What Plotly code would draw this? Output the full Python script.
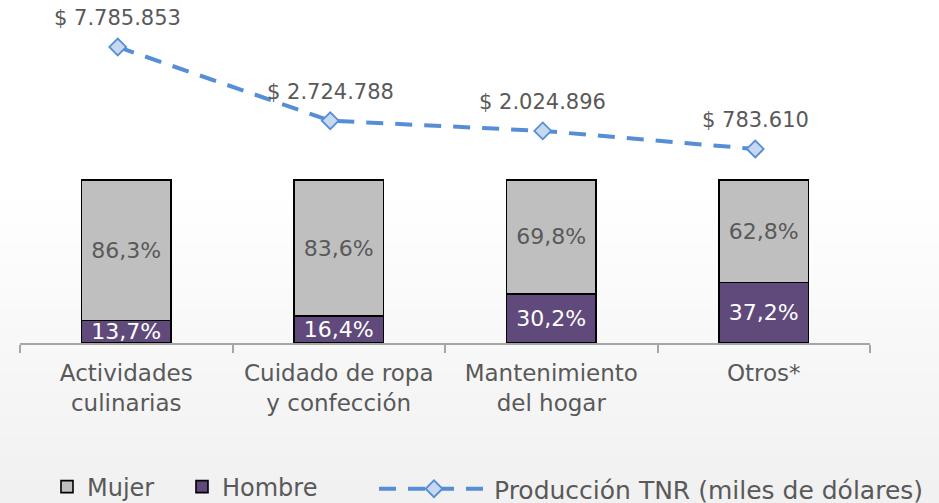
import plotly.graph_objects as go

categories = ["Actividades<br>culinarias", "Cuidado de ropa<br>y confección",
              "Mantenimiento<br>del hogar", "Otros*"]
mujer = [86.3, 83.6, 69.8, 62.8]
hombre = [13.7, 16.4, 30.2, 37.2]
produccion = [7785853, 2724788, 2024896, 783610]

FONT = "DejaVu Sans"
GRAY_TXT = "#595959"
W, H = 939, 503
L, R, T, B = 20, 69, 0, 160
PH = H - T - B
PW = W - L - R


def pct(v):
    return f"{v:.1f}%".replace(".", ",")


def money(v):
    return "$ " + f"{v:,}".replace(",", ".")


fig = go.Figure()
fig.add_trace(go.Bar(
    x=categories, y=hombre, name="Hombre", legendrank=2,
    marker=dict(color="#5F4A7B", line=dict(color="black", width=1.6)),
    text=[pct(v) for v in hombre], textposition="inside", insidetextanchor="middle",
    textangle=0, textfont=dict(family=FONT, size=22, color="white"),
))
fig.add_trace(go.Bar(
    x=categories, y=mujer, name="Mujer", legendrank=1,
    marker=dict(color="#BFBFBF", line=dict(color="black", width=1.6)),
    text=[pct(v) for v in mujer], textposition="inside", insidetextanchor="middle",
    textangle=0, textfont=dict(family=FONT, size=22, color=GRAY_TXT),
))
fig.add_trace(go.Scatter(
    x=categories, y=produccion, name="Producción TNR (miles de dólares)",
    xaxis="x2", yaxis="y2", mode="lines+markers", legend="legend2",
    line=dict(color="#558ED5", width=4, dash="17px,12px"),
    marker=dict(symbol="diamond", size=13, color="#C6D9F1",
                line=dict(color="#558ED5", width=1.8)),
))

annotations = []
for c, v in zip(categories, produccion):
    annotations.append(dict(
        x=c, y=v, xref="x2", yref="y2", text=money(v), showarrow=False,
        yshift=29, font=dict(family=FONT, size=21, color=GRAY_TXT),
    ))

shapes = []
n_bands = 14
for i in range(n_bands):
    ptop = 200 + i * (300 / n_bands)
    shapes.append(dict(
        type="rect", xref="paper", yref="paper", layer="below",
        x0=(0 - L) / PW, x1=(W - L) / PW,
        y0=(PH - H) / PH, y1=(PH - ptop) / PH,
        fillcolor="rgba(0,0,0,0.005)", line=dict(width=0),
    ))

y2min, y2max = -12535000, 11011000
fig.update_layout(
    width=W, height=H, margin=dict(l=L, r=R, t=T, b=B, autoexpand=False),
    paper_bgcolor="white", plot_bgcolor="rgba(0,0,0,0)",
    barmode="stack", bargap=0.58,
    uniformtext=dict(minsize=20, mode="show"),
    font=dict(family=FONT, color=GRAY_TXT),
    xaxis=dict(type="category", showline=True, linecolor="#A6A6A6", linewidth=1.5,
               ticks="outside", tickson="boundaries", ticklen=8, tickcolor="#A6A6A6",
               tickwidth=1.5, showgrid=False, zeroline=False, ticklabelstandoff=9,
               tickfont=dict(family=FONT, size=23, color=GRAY_TXT)),
    xaxis2=dict(type="category", overlaying="x", range=[-0.46, 3.54], visible=False),
    yaxis=dict(range=[0, 210.4], visible=False),
    yaxis2=dict(range=[y2min, y2max], overlaying="y", side="right", visible=False),
    legend=dict(orientation="h", x=(47 - L) / PW, xanchor="left", y=(PH - 487) / PH,
                yanchor="middle", traceorder="normal", entrywidth=90,
                font=dict(family=FONT, size=24, color=GRAY_TXT),
                bgcolor="rgba(0,0,0,0)", itemwidth=30),
    legend2=dict(orientation="h", x=(374 - L) / PW, xanchor="left", y=(PH - 489) / PH,
                 yanchor="middle", font=dict(family=FONT, size=25, color=GRAY_TXT),
                 bgcolor="rgba(0,0,0,0)", itemwidth=110),
    annotations=annotations, shapes=shapes,
)

fig.write_html("out.html", config={"displayModeBar": False},
               post_script="document.body.style.margin='0';document.body.style.overflow='hidden';")
